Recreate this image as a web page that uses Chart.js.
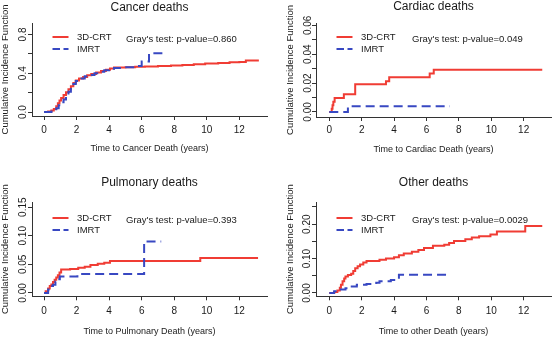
<!DOCTYPE html>
<html lang="en">
<head>
<meta charset="UTF-8">
<title>Cumulative incidence of death by cause</title>
<script src="https://cdn.jsdelivr.net/npm/chart.js"></script>
<style>
  html, body { margin: 0; padding: 0; background: #fff; overflow: hidden; }
  body { width: 553px; height: 338px; position: relative; }
  canvas { position: absolute; }
</style>
</head>
<body>
<canvas id="cancer" width="276" height="168" style="left:0;top:0"></canvas>
<canvas id="cardiac" width="280" height="168" style="left:276px;top:0"></canvas>
<canvas id="pulmonary" width="276" height="170" style="left:0;top:168px"></canvas>
<canvas id="other" width="280" height="170" style="left:276px;top:168px"></canvas>

<script>
// series names and test results
const seriesNames = ['3D-CRT', 'IMRT'];
const panelTitles = ['Cancer deaths', 'Cardiac deaths', 'Pulmonary deaths', 'Other deaths'];
const xTitles = ['Time to Cancer Death (years)', 'Time to Cardiac Death (years)',
                 'Time to Pulmonary Death (years)', 'Time to other Death (years)'];
const pValues = ['0.860', '0.049', '0.393', '0.0029'];
const yTitle = 'Cumulative Incidence Function';

// y tick labels that R actually printed (the other ticks are unlabelled)
const cancerYLabels = ['0.0', '0.4', '0.8'];
const cardiacYLabels = ['0.00', '0.02', '0.04', '0.06'];
const pulmonaryYLabels = ['0.00', '0.05', '0.10', '0.15'];
const otherYLabels = ['0.00', '0.10', '0.20'];

// cancer deaths (time in years, cumulative incidence after each step)
const cancerTimeCrt = [0, 0.25, 0.45, 0.6, 0.75, 0.85, 0.95, 1.05, 1.2, 1.35, 1.5, 1.65, 1.8, 1.95, 2.15, 2.4, 2.65, 2.9, 3.2, 3.5, 3.8, 4.05, 4.3, 5.0, 5.6, 6.2, 7.0, 7.8, 8.5, 9.2, 9.9, 10.7, 11.4, 12.0, 12.4, 13.2];
const cancerCifCrt = [0, 0.005, 0.015, 0.03, 0.06, 0.09, 0.12, 0.145, 0.175, 0.205, 0.235, 0.265, 0.3, 0.325, 0.345, 0.362, 0.378, 0.392, 0.408, 0.422, 0.437, 0.45, 0.458, 0.462, 0.467, 0.47, 0.474, 0.48, 0.486, 0.492, 0.5, 0.506, 0.512, 0.516, 0.532, 0.532];
const cancerTimeImrt = [0, 0.45, 0.6, 0.75, 0.9, 1.05, 1.2, 1.35, 1.5, 1.65, 1.8, 1.95, 2.2, 2.5, 2.8, 3.1, 3.4, 3.7, 4.0, 4.3, 4.9, 5.6, 6.0, 6.45, 7.4];
const cancerCifImrt = [0, 0.005, 0.015, 0.04, 0.07, 0.1, 0.13, 0.17, 0.21, 0.25, 0.29, 0.32, 0.345, 0.368, 0.383, 0.4, 0.415, 0.43, 0.445, 0.455, 0.462, 0.475, 0.52, 0.605, 0.605];

// cardiac deaths
const cardiacTimeCrt = [0, 0.15, 0.2, 0.25, 0.33, 0.9, 1.6, 3.5, 3.7, 6.2, 6.45, 13.15];
const cardiacCifCrt = [0, 0.0023, 0.0047, 0.007, 0.0096, 0.0122, 0.0192, 0.0213, 0.024, 0.0267, 0.0292, 0.0292];
const cardiacTimeImrt = [0, 1.15, 7.45];
const cardiacCifImrt = [0, 0.0039, 0.0039];

// pulmonary deaths
const pulmonaryTimeCrt = [0, 0.1, 0.25, 0.35, 0.45, 0.55, 0.65, 0.75, 0.85, 0.95, 1.05, 1.6, 2.1, 2.5, 2.85, 3.3, 3.7, 4.05, 9.6, 13.15];
const pulmonaryCifCrt = [0, 0.003, 0.008, 0.012, 0.015, 0.019, 0.023, 0.027, 0.031, 0.036, 0.041, 0.042, 0.044, 0.046, 0.049, 0.051, 0.053, 0.056, 0.061, 0.061];
const pulmonaryTimeImrt = [0, 0.25, 0.4, 0.55, 0.7, 0.8, 0.97, 2.05, 6.15, 7.2];
const pulmonaryCifImrt = [0, 0.006, 0.012, 0.0145, 0.02, 0.024, 0.029, 0.033, 0.09, 0.09];

// other deaths
const otherTimeCrt = [0, 0.3, 0.5, 0.65, 0.72, 0.82, 0.92, 1.0, 1.15, 1.35, 1.48, 1.6, 1.75, 1.9, 2.1, 2.3, 3.1, 3.5, 4.0, 4.3, 4.6, 5.1, 5.5, 5.85, 6.4, 7.1, 7.4, 7.7, 8.4, 8.8, 9.25, 9.95, 10.35, 12.1, 13.15];
const otherCifCrt = [0, 0.003, 0.007, 0.015, 0.024, 0.034, 0.042, 0.048, 0.052, 0.056, 0.064, 0.072, 0.078, 0.083, 0.089, 0.093, 0.097, 0.1, 0.104, 0.11, 0.115, 0.12, 0.125, 0.131, 0.137, 0.14, 0.145, 0.151, 0.156, 0.161, 0.165, 0.17, 0.179, 0.195, 0.195];
const otherTimeImrt = [0, 0.3, 0.6, 1.0, 1.3, 1.7, 2.3, 2.9, 3.1, 3.8, 4.15, 4.3, 7.42];
const otherCifImrt = [0, 0.005, 0.01, 0.014, 0.019, 0.024, 0.026, 0.03, 0.034, 0.038, 0.041, 0.053, 0.053];

const RED = '#f03c34';
const BLUE = '#3848c2';
const INK = '#1a1a1a';
const AXIS = '#333';
const FONT = '"Liberation Sans", Arial, Helvetica, sans-serif';
Chart.defaults.font.family = FONT;

function toPoints(times, values) {
    return times.map((t, i) => ({ x: t, y: values[i] }));
}

// R-style extras: title over the plot box, rotated y tick labels,
// legend and Gray's test text inside the plot
const rPanel = {
    id: 'rPanel',
    afterDraw(chart, args, opts) {
        const { ctx, chartArea } = chart;
        const yScale = chart.scales.y;
        ctx.save();
        ctx.fillStyle = INK;
        ctx.textBaseline = 'middle';

        ctx.textAlign = 'center';
        ctx.font = '12px ' + FONT;
        ctx.fillText(opts.title, (chartArea.left + chartArea.right) / 2, opts.titleY);

        // y tick labels, reading bottom to top like las=0
        ctx.font = '10px ' + FONT;
        yScale.ticks.forEach(t => {
            const lab = opts.yLabels.find(l => Math.abs(Number(l) - t.value) < 1e-9);
            if (lab === undefined) return;
            ctx.save();
            ctx.translate(chartArea.left + opts.yLabelDx, yScale.getPixelForValue(t.value));
            ctx.rotate(-Math.PI / 2);
            ctx.fillText(lab, 0, 0);
            ctx.restore();
        });

        ctx.textAlign = 'left';
        ctx.font = '9.5px ' + FONT;
        chart.data.datasets.forEach((ds, i) => {
            const y = chartArea.top + opts.rows[i];
            ctx.beginPath();
            ctx.strokeStyle = ds.borderColor;
            ctx.lineWidth = 2;
            ctx.setLineDash(ds.borderDash ? [7.5, 3.5] : []);
            ctx.moveTo(chartArea.left + 20.5, y);
            ctx.lineTo(chartArea.left + 36.5, y);
            ctx.stroke();
            ctx.fillText(ds.label, chartArea.left + 45, y);
        });
        ctx.fillText("Gray's test: p-value=" + opts.p, chartArea.left + opts.testX, chartArea.top + opts.testY);
        ctx.restore();
    }
};

function makeChart(id, k, crt, imrt, yLabels, lay) {
    new Chart(document.getElementById(id), {
        type: 'line',
        data: {
            datasets: [{
                label: seriesNames[0],
                data: toPoints(crt[0], crt[1]),
                borderColor: RED,
                borderWidth: 2,
                stepped: true,
                order: 1
            }, {
                label: seriesNames[1],
                data: toPoints(imrt[0], imrt[1]),
                borderColor: BLUE,
                borderWidth: 2,
                borderDash: [9, 5],
                stepped: true,
                order: 0
            }]
        },
        options: {
            responsive: false,
            animation: false,
            layout: { padding: { left: 0, right: lay.padRight, top: lay.padTop, bottom: 0 } },
            elements: { point: { radius: 0 }, line: { tension: 0, borderCapStyle: 'butt' } },
            plugins: {
                legend: { display: false },
                tooltip: { enabled: false },
                title: { display: false },
                rPanel: {
                    title: panelTitles[k], titleY: lay.titleY,
                    yLabels: yLabels, yLabelDx: lay.yLabelDx,
                    rows: lay.rows, p: pValues[k], testX: lay.testX, testY: lay.testY
                }
            },
            scales: {
                x: {
                    type: 'linear',
                    min: lay.xMin,
                    max: lay.xMax,
                    afterFit: s => { s.height = lay.xHeight; },
                    ticks: { stepSize: 2, includeBounds: false, padding: lay.xTickPad, color: INK, font: { size: 10 }, maxRotation: 0 },
                    grid: { drawOnChartArea: false, drawTicks: true, tickLength: 4, color: AXIS, tickColor: AXIS },
                    border: { display: true, color: AXIS, width: 1 },
                    title: { display: true, text: xTitles[k], color: INK, font: { size: 9 }, padding: { top: 0, bottom: lay.xTitleBottom } }
                },
                y: {
                    min: lay.yMin,
                    max: lay.yMax,
                    afterFit: s => { s.width = lay.yWidth; },
                    ticks: { stepSize: lay.yStep, includeBounds: false, autoSkip: false, display: false },
                    grid: { drawOnChartArea: false, drawTicks: true, tickLength: 4, color: AXIS, tickColor: AXIS },
                    border: { display: true, color: AXIS, width: 1 },
                    title: { display: true, text: yTitle, color: INK, font: { size: 9.5 }, padding: { top: lay.yTitleTop, bottom: 0 } }
                }
            }
        },
        plugins: [rPanel]
    });
}

makeChart('cancer', 0, [cancerTimeCrt, cancerCifCrt], [cancerTimeImrt, cancerCifImrt], cancerYLabels, {
    padTop: 23, titleY: 7.5, padRight: 9, xHeight: 52, xTitleBottom: 13.6, xTickPad: 4,
    yWidth: 32, yTitleTop: 0, yLabelDx: -8.7, yStep: 0.2,
    xMin: -0.74, xMax: 13.7, yMin: -0.041, yMax: 0.918,
    rows: [14, 26], testX: 94, testY: 16
});
makeChart('cardiac', 1, [cardiacTimeCrt, cardiacCifCrt], [cardiacTimeImrt, cardiacCifImrt], cardiacYLabels, {
    padTop: 23, titleY: 7, padRight: 5, xHeight: 51, xTitleBottom: 13.3, xTickPad: 3.5,
    yWidth: 40, yTitleTop: 8.8, yLabelDx: -7.3, yStep: 0.01,
    xMin: -0.82, xMax: 13.69, yMin: -0.0035, yMax: 0.0616,
    rows: [14, 26], testX: 96, testY: 16
});
makeChart('pulmonary', 2, [pulmonaryTimeCrt, pulmonaryCifCrt], [pulmonaryTimeImrt, pulmonaryCifImrt], pulmonaryYLabels, {
    padTop: 34, titleY: 14.5, padRight: 9, xHeight: 41.7, xTitleBottom: 1.3, xTickPad: 5,
    yWidth: 32, yTitleTop: 0, yLabelDx: -8.7, yStep: 0.05,
    xMin: -0.74, xMax: 13.7, yMin: -0.0058, yMax: 0.159,
    rows: [16, 28], testX: 94, testY: 18
});
makeChart('other', 3, [otherTimeCrt, otherCifCrt], [otherTimeImrt, otherCifImrt], otherYLabels, {
    padTop: 34, titleY: 14.5, padRight: 5, xHeight: 41.7, xTitleBottom: 1.3, xTickPad: 5,
    yWidth: 40, yTitleTop: 8.8, yLabelDx: -8.3, yStep: 0.05,
    xMin: -0.82, xMax: 13.69, yMin: -0.0096, yMax: 0.2645,
    rows: [16, 28], testX: 96, testY: 18
});
</script>
</body>
</html>
